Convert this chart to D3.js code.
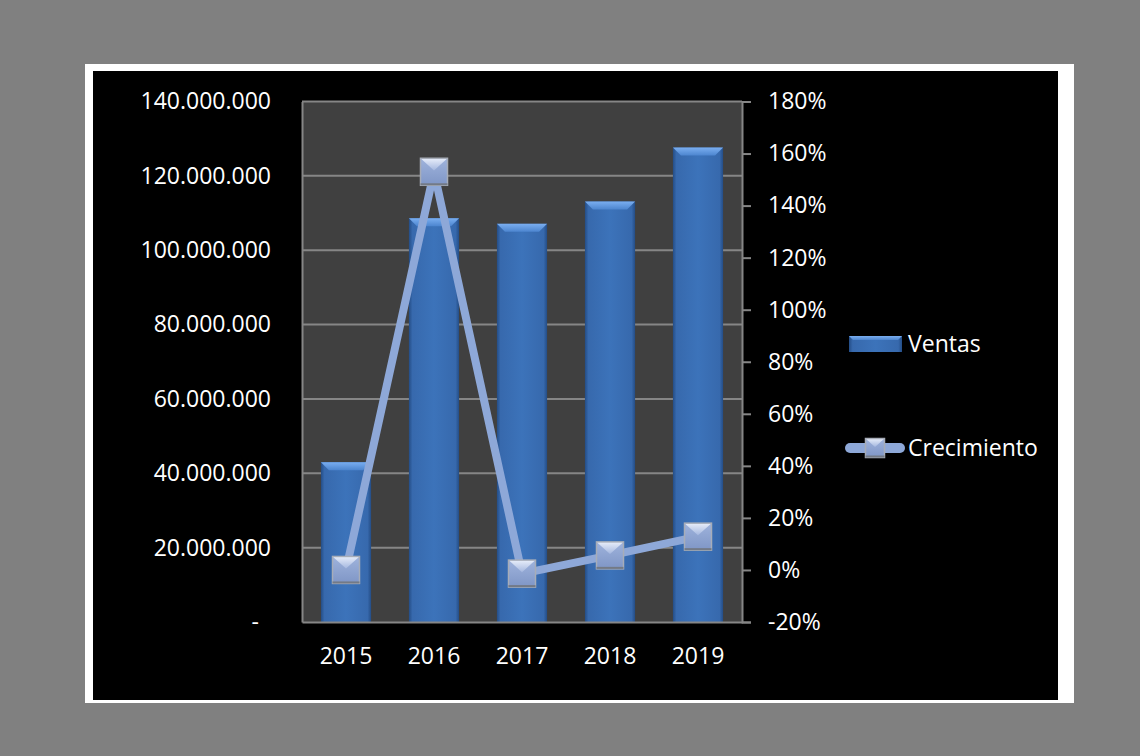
<!DOCTYPE html>
<html>
  <head>
    <meta charset="utf-8">
    <title>Ventas y Crecimiento</title>
    <script type="text/javascript" src="https://cdn.jsdelivr.net/npm/d3@7"></script>
    <style type="text/css">
      body { margin: 0; background: #808080; }
      svg text { font-family: "Open Sans", sans-serif; font-size: 23px; fill: #ffffff; }
    </style>
  </head>
  <body>
    <script type="text/javascript">
      // datos
      var years = ["2015", "2016", "2017", "2018", "2019"];
      var ventas = [43000000, 108600000, 107100000, 113100000, 127600000];
      var crecimiento = [0.0, 1.53, -0.014, 0.056, 0.128];
      var leftTicks = [0, 20000000, 40000000, 60000000, 80000000, 100000000, 120000000, 140000000];
      var rightTicks = [-0.2, 0, 0.2, 0.4, 0.6, 0.8, 1.0, 1.2, 1.4, 1.6, 1.8];

      var w = 1140, h = 756;
      var plot = { left: 302, right: 742, top: 101.5, bottom: 622 };

      var svg = d3.select("body").append("svg")
                  .attr("width", w)
                  .attr("height", h);

      var defs = svg.append("defs");

      var barGrad = defs.append("linearGradient").attr("id", "barGrad")
                        .attr("x1", 0).attr("x2", 1).attr("y1", 0).attr("y2", 0);
      [["0%", "#244d86"], ["7%", "#3769ad"], ["50%", "#3c73ba"], ["93%", "#3769ad"], ["100%", "#244d86"]]
        .forEach(function(s) { barGrad.append("stop").attr("offset", s[0]).attr("stop-color", s[1]); });

      var bevelGrad = defs.append("linearGradient").attr("id", "bevelGrad")
                          .attr("x1", 0).attr("x2", 0).attr("y1", 0).attr("y2", 1);
      [["0%", "#7aaef0"], ["100%", "#4c85cf"]]
        .forEach(function(s) { bevelGrad.append("stop").attr("offset", s[0]).attr("stop-color", s[1]); });

      var topFacet = defs.append("linearGradient").attr("id", "topFacet")
                         .attr("x1", 0).attr("x2", 0).attr("y1", 0).attr("y2", 1);
      [["0%", "#e8eefa"], ["100%", "#a4b7df"]]
        .forEach(function(s) { topFacet.append("stop").attr("offset", s[0]).attr("stop-color", s[1]); });

      var bodyFacet = defs.append("linearGradient").attr("id", "bodyFacet")
                          .attr("x1", 0).attr("x2", 0).attr("y1", 0).attr("y2", 1);
      [["0%", "#9fb3dc"], ["100%", "#7f96c6"]]
        .forEach(function(s) { bodyFacet.append("stop").attr("offset", s[0]).attr("stop-color", s[1]); });

      // marco blanco y fondo negro
      svg.append("rect").attr("x", 85).attr("y", 64).attr("width", 989).attr("height", 639).attr("fill", "#ffffff");
      svg.append("rect").attr("x", 93).attr("y", 71).attr("width", 965).attr("height", 629).attr("fill", "#000000");

      // area de trazado
      svg.append("rect")
         .attr("x", plot.left).attr("y", plot.top)
         .attr("width", plot.right - plot.left).attr("height", plot.bottom - plot.top)
         .attr("fill", "#404040");

      var x = d3.scaleBand().domain(years).range([plot.left, plot.right])
                .paddingInner(0.43).paddingOuter(0.215);
      var y = d3.scaleLinear().domain([0, 140000000]).range([plot.bottom, plot.top]);
      var y2 = d3.scaleLinear().domain([-0.2, 1.8]).range([plot.bottom, plot.top]);

      // lineas de cuadricula
      svg.append("g").selectAll("line")
         .data(leftTicks.slice(1))
         .enter().append("line")
         .attr("x1", plot.left).attr("x2", plot.right)
         .attr("y1", function(d) { return y(d); })
         .attr("y2", function(d) { return y(d); })
         .attr("stroke", "#868686").attr("stroke-width", 2);

      // barras
      var bevel = 8;
      var bars = svg.append("g").selectAll("g")
                    .data(ventas).enter().append("g");
      bars.append("rect")
          .attr("x", function(d, i) { return x(years[i]); })
          .attr("y", function(d) { return y(d); })
          .attr("width", x.bandwidth())
          .attr("height", function(d) { return plot.bottom - y(d); })
          .attr("fill", "url(#barGrad)");
      bars.append("polygon")
          .attr("points", function(d, i) {
              var x0 = x(years[i]), x1 = x0 + x.bandwidth(), t = y(d);
              return [[x0, t], [x1, t], [x1 - bevel, t + bevel], [x0 + bevel, t + bevel]].join(" ");
          })
          .attr("fill", "url(#bevelGrad)");

      // ejes
      var fmtLeft = function(d) { return d === 0 ? "-" : d3.format(",")(d).replace(/,/g, "."); };
      var leftAxis = svg.append("g")
         .attr("transform", "translate(" + plot.left + ",0)")
         .call(d3.axisLeft(y).tickValues(leftTicks).tickSize(0).tickPadding(31).tickFormat(fmtLeft));
      leftAxis.selectAll("text").filter(function(d) { return d === 0; }).attr("dx", "-12");

      var rightAxis = svg.append("g")
         .attr("transform", "translate(" + plot.right + ",0)")
         .call(d3.axisRight(y2).tickValues(rightTicks).tickSizeOuter(0).tickSize(9).tickPadding(17)
                 .tickFormat(function(d) { return Math.round(d * 100) + "%"; }));

      var bottomAxis = svg.append("g")
         .attr("transform", "translate(0," + plot.bottom + ")")
         .call(d3.axisBottom(x).tickSize(0).tickPadding(26));

      [leftAxis, rightAxis, bottomAxis].forEach(function(a) {
          a.select(".domain").attr("stroke", "#868686").attr("stroke-width", 2);
          a.selectAll(".tick line").attr("stroke", "#868686").attr("stroke-width", 2);
          a.selectAll("text").attr("fill", "#ffffff").attr("font-size", "23px")
           .attr("font-family", "'Open Sans', sans-serif");
      });

      // linea de crecimiento
      var line = d3.line()
                   .x(function(d, i) { return x(years[i]) + x.bandwidth() / 2; })
                   .y(function(d) { return y2(d); });
      svg.append("path")
         .datum(crecimiento)
         .attr("d", line)
         .attr("fill", "none")
         .attr("stroke", "#8ea8d8")
         .attr("stroke-width", 8)
         .attr("stroke-linejoin", "round");

      // marcador cuadrado con bisel
      function marker(g, cx, cy, s) {
          var x0 = cx - s / 2, x1 = cx + s / 2, y0 = cy - s / 2, y1 = cy + s / 2;
          g.append("rect").attr("x", x0).attr("y", y0).attr("width", s).attr("height", s)
           .attr("fill", "url(#bodyFacet)");
          g.append("polygon").attr("points", [[x0, y0], [x1, y0], [cx, cy - s * 0.05]].join(" "))
           .attr("fill", "url(#topFacet)");
          g.append("rect").attr("x", x0).attr("y", y0).attr("width", s).attr("height", s)
           .attr("fill", "none").attr("stroke", "#a7adb8").attr("stroke-width", 1.5);
          g.append("line").attr("x1", x0).attr("x2", x1).attr("y1", y1 - 1).attr("y2", y1 - 1)
           .attr("stroke", "#737a86").attr("stroke-width", 2);
      }

      var markers = svg.append("g");
      crecimiento.forEach(function(d, i) {
          marker(markers.append("g"), x(years[i]) + x.bandwidth() / 2, y2(d), 27);
      });

      // leyenda
      var legend = svg.append("g");
      legend.append("rect").attr("x", 849).attr("y", 336).attr("width", 53).attr("height", 16)
            .attr("fill", "url(#barGrad)");
      legend.append("polygon")
            .attr("points", [[849, 336], [902, 336], [898, 340], [853, 340]].join(" "))
            .attr("fill", "url(#bevelGrad)");
      legend.append("text").attr("x", 908).attr("y", 344).attr("dy", "0.35em").text("Ventas");

      legend.append("line").attr("x1", 850).attr("x2", 900).attr("y1", 448).attr("y2", 448)
            .attr("stroke", "#8ea8d8").attr("stroke-width", 10).attr("stroke-linecap", "round");
      marker(legend.append("g"), 875, 448, 19);
      legend.append("text").attr("x", 908).attr("y", 448).attr("dy", "0.35em").text("Crecimiento");
    </script>
  </body>
</html>
